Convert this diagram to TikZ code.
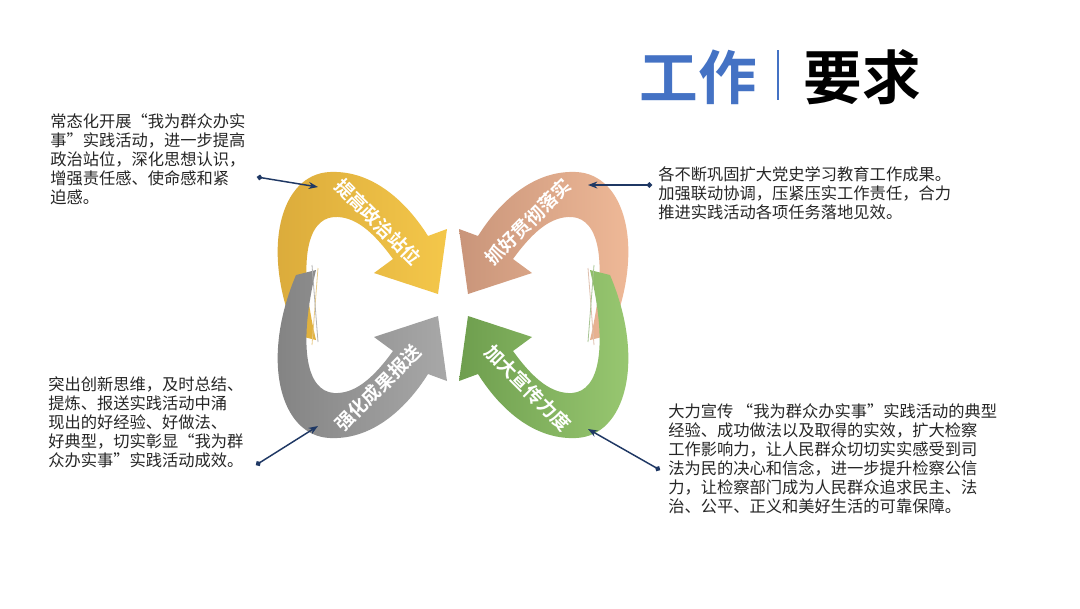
\documentclass[tikz,border=0pt]{standalone}
\usepackage{fontspec}
\setmainfont{Noto Sans CJK SC}
\newfontfamily\cjkb{Noto Sans CJK SC Bold}
\usetikzlibrary{arrows.meta}
\definecolor{ylw}{HTML}{F4C74A}\definecolor{ylwd}{HTML}{D9A93A}
\definecolor{org}{HTML}{F2BC9A}\definecolor{orgd}{HTML}{C9957A}
\definecolor{gry}{HTML}{A8A8A8}\definecolor{gryd}{HTML}{808080}
\definecolor{grn}{HTML}{9CCB74}\definecolor{grnd}{HTML}{6E9E4E}
\definecolor{navy}{HTML}{1F3864}\definecolor{tblue}{HTML}{4472C4}
\tikzset{
 body/.style={font=\fontsize{12.2}{14.3}\selectfont, text=black!85, align=left, anchor=north west, inner sep=0pt},
 band/.style={text=white, font=\cjkb\fontsize{14}{14}\selectfont, inner sep=0pt},
 conn/.style={navy, line width=1.1pt, {Circle[length=4pt]}-{Stealth[length=7pt]}}
}
\newcommand{\bandpath}[2]{%
 \shade[left color=#2, right color=#1] (296,335) .. controls (260,250) and (280,174) .. (330,172)
  .. controls (374,170) and (408,204) .. (428,236) -- (447,229) -- (438,294) -- (374,273) -- (393,259)
  .. controls (372,230) and (354,216) .. (334,217) .. controls (306,219) and (298,264) .. (316,340) -- cycle;
 \draw[#2!60!white, line width=0.6pt] (318,268) -- (312,345);}
\begin{document}
\begin{tikzpicture}[x=0.75pt,y=-0.75pt]
\path[use as bounding box, fill=white] (0,0) rectangle (1080,608);
% title
\node[font=\cjkb\fontsize{44}{44}\selectfont, text=tblue, anchor=center] (t1) at (698,77) {工作};
\draw[tblue, line width=1.2pt] (778,50) -- (778,100);
\node[font=\cjkb\fontsize{44}{44}\selectfont, text=black, anchor=center] (t2) at (862,77) {要求};
% bands
\bandpath{ylw}{ylwd}
\begin{scope}[shift={(906,0)},xscale=-1]\bandpath{org}{orgd}\end{scope}
\begin{scope}[shift={(0,610)},yscale=-1]\bandpath{gry}{gryd}\end{scope}
\begin{scope}[shift={(906,610)},xscale=-1,yscale=-1]\bandpath{grn}{grnd}\end{scope}
\node[band, rotate=-45] (b1) at (378,222) {提高政治站位};
\node[band, rotate=45] (b2) at (528,222) {抓好贯彻落实};
\node[band, rotate=45] (b3) at (378,388) {强化成果报送};
\node[band, rotate=-45] (b4) at (528,388) {加大宣传力度};
% texts
\node[body] (x1) at (50,113) {常态化开展“我为群众办实\\事”实践活动，进一步提高\\政治站位，深化思想认识，\\增强责任感、使命感和紧\\迫感。};
\node[body] (x2) at (658,166) {各不断巩固扩大党史学习教育工作成果。\\加强联动协调，压紧压实工作责任，合力\\推进实践活动各项任务落地见效。};
\node[body] (x3) at (48,376) {突出创新思维，及时总结、\\提炼、报送实践活动中涌\\现出的好经验、好做法、\\好典型，切实彰显“我为群\\众办实事”实践活动成效。};
\node[body] (x4) at (668,403) {大力宣传 “我为群众办实事”实践活动的典型\\经验、成功做法以及取得的实效，扩大检察\\工作影响力，让人民群众切切实实感受到司\\法为民的决心和信念，进一步提升检察公信\\力，让检察部门成为人民群众追求民主、法\\治、公平、正义和美好生活的可靠保障。};
% connectors
\coordinate (c1) at (257,177); \coordinate (e1) at (318,187);
\coordinate (c2) at (652,185); \coordinate (e2) at (588,185);
\coordinate (c3) at (256,465); \coordinate (e3) at (318,426);
\coordinate (c4) at (660,470); \coordinate (e4) at (588,429);
\draw[conn] (c1) -- (e1);
\draw[conn] (c2) -- (e2);
\draw[conn] (c3) -- (e3);
\draw[conn] (c4) -- (e4);
\end{tikzpicture}
\end{document}
